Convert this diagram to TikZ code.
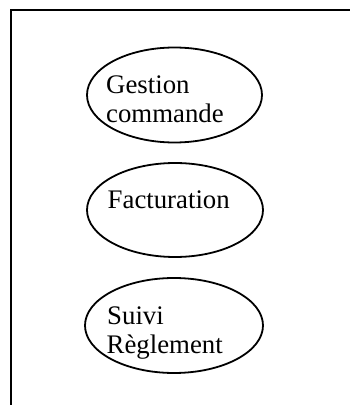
\documentclass[tikz,border=0pt]{standalone}
\usepackage{fontspec}
\setmainfont{Liberation Serif}
\usetikzlibrary{shapes.geometric}
\begin{document}
\begin{tikzpicture}[x=1pt,y=1pt,
  usecase/.style={draw=black, line width=1.8pt, ellipse, inner sep=0pt},
  label/.style={inner sep=0pt, anchor=base west, font=\fontsize{26.8}{29}\selectfont},
  frame/.style={draw=black, line width=2.2pt}]
\useasboundingbox (0,0) rectangle (349,405);
\coordinate (tr) at (350,395);
\coordinate (tl) at (11,395);
\coordinate (bl) at (11,-1);
\draw[frame] (tr) -- (tl) -- (bl);
\node[usecase, minimum width=175pt, minimum height=95pt] (e1) at (174.5,310) {};
\node[usecase, minimum width=176pt, minimum height=94pt] (e2) at (175,195) {};
\node[usecase, minimum width=178pt, minimum height=95pt] (e3) at (174,79.5) {};
\node[label] (t1a) at (106,311) {Gestion};
\node[label] (t1b) at (106,282) {commande};
\node[label] (t2) at (107.5,196) {Facturation};
\node[label] (t3a) at (107,80) {Suivi};
\node[label] (t3b) at (106.5,51) {Règlement};
\end{tikzpicture}
\end{document}
